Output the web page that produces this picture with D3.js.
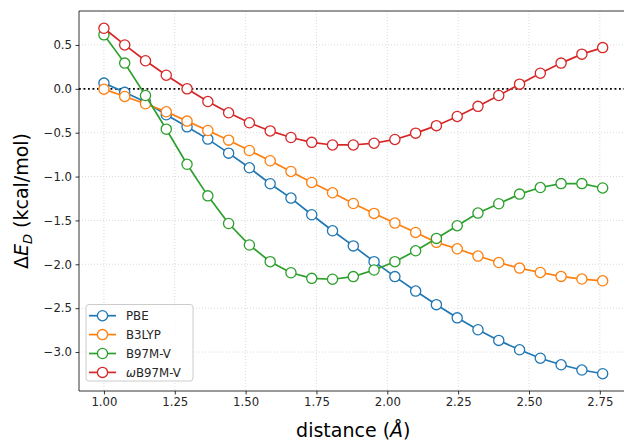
<!DOCTYPE html>
<html>
<head>
<meta charset="utf-8">
<script src="https://cdn.jsdelivr.net/npm/d3@7"></script>
<style>
  html, body { margin: 0; padding: 0; background: #fff; }
  svg { display: block; font-family: "DejaVu Sans", sans-serif; }
</style>
</head>
<body>
<svg id="chart" width="624" height="441"></svg>
<script>
// Separation distances (Å)
const distances = [1.0, 1.0733, 1.1467, 1.22, 1.2933, 1.3667, 1.44, 1.5133, 1.5867, 1.66,
  1.7333, 1.8067, 1.88, 1.9533, 2.0267, 2.10, 2.1733, 2.2467, 2.32, 2.3933,
  2.4667, 2.54, 2.6133, 2.6867, 2.76];

// ΔE_D (kcal/mol) for each functional
const pbe = [0.065, -0.04, -0.15, -0.296, -0.433, -0.573, -0.733, -0.90, -1.082, -1.245,
  -1.435, -1.618, -1.79, -1.97, -2.14, -2.305, -2.46, -2.61, -2.746, -2.867,
  -2.974, -3.07, -3.145, -3.205, -3.247];
const b3lyp = [-0.004, -0.087, -0.17, -0.262, -0.368, -0.475, -0.585, -0.703, -0.82, -0.942,
  -1.067, -1.185, -1.307, -1.42, -1.53, -1.637, -1.75, -1.823, -1.906, -1.98,
  -2.043, -2.093, -2.138, -2.168, -2.188];
const b97mv = [0.615, 0.293, -0.076, -0.46, -0.86, -1.22, -1.535, -1.78, -1.97, -2.096,
  -2.16, -2.17, -2.14, -2.065, -1.97, -1.846, -1.705, -1.56, -1.416, -1.31,
  -1.2, -1.125, -1.08, -1.08, -1.13];
const wb97mv = [0.69, 0.50, 0.32, 0.155, 0.0, -0.145, -0.273, -0.387, -0.48, -0.555,
  -0.61, -0.64, -0.64, -0.62, -0.577, -0.505, -0.42, -0.315, -0.20, -0.076,
  0.053, 0.178, 0.293, 0.395, 0.47];

const seriesNames = ["PBE", "B3LYP", "B97M-V", "ωB97M-V"];
const seriesColors = ["#1f77b4", "#ff7f0e", "#2ca02c", "#d62728"];
const seriesValues = [pbe, b3lyp, b97mv, wb97mv];

const xTicks = [1.00, 1.25, 1.50, 1.75, 2.00, 2.25, 2.50, 2.75];
const yTicks = [0.5, 0.0, -0.5, -1.0, -1.5, -2.0, -2.5, -3.0];

const svg = d3.select("#chart");
const plot = { left: 79, top: 11, right: 627.6, bottom: 391 };

const allY = seriesValues.flat();
const xMin = d3.min(distances), xMax = d3.max(distances);
const yMin = d3.min(allY), yMax = d3.max(allY);
const xPad = (xMax - xMin) * 0.05, yPad = (yMax - yMin) * 0.05;

const x = d3.scaleLinear().domain([xMin - xPad, xMax + xPad]).range([plot.left, plot.right]);
const y = d3.scaleLinear().domain([yMin - yPad, yMax + yPad]).range([plot.bottom, plot.top]);

const fmt = d => d3.format(".2f")(d).replace("-", "\u2212");
const fmtY = d => d3.format(".1f")(d).replace("-", "\u2212");

// grid
const grid = svg.append("g").attr("stroke", "#d0d0d0").attr("stroke-width", 0.8)
  .attr("stroke-dasharray", "1,2");
grid.selectAll(".gx").data(xTicks).join("line")
  .attr("x1", d => x(d)).attr("x2", d => x(d))
  .attr("y1", plot.top).attr("y2", plot.bottom);
grid.selectAll(".gy").data(yTicks).join("line")
  .attr("x1", plot.left).attr("x2", plot.right)
  .attr("y1", d => y(d)).attr("y2", d => y(d));

// zero reference line
svg.append("line")
  .attr("x1", plot.left).attr("x2", plot.right)
  .attr("y1", y(0)).attr("y2", y(0))
  .attr("stroke", "#000").attr("stroke-width", 1.8)
  .attr("stroke-dasharray", "1.8,2.7");

// series
const line = d3.line().x((d, i) => x(distances[i])).y(d => y(d));
seriesValues.forEach((vals, k) => {
  const g = svg.append("g");
  g.append("path").datum(vals).attr("d", line)
    .attr("fill", "none").attr("stroke", seriesColors[k]).attr("stroke-width", 1.7);
  g.selectAll("circle").data(vals).join("circle")
    .attr("cx", (d, i) => x(distances[i])).attr("cy", d => y(d)).attr("r", 5.1)
    .attr("fill", "#fff").attr("stroke", seriesColors[k]).attr("stroke-width", 1.3);
});

// axes
const xAxis = d3.axisBottom(x).tickValues(xTicks).tickFormat(fmt).tickSizeOuter(0).tickSize(3.5).tickPadding(3.5);
const yAxis = d3.axisLeft(y).tickValues(yTicks).tickFormat(fmtY).tickSizeOuter(0).tickSize(3.5).tickPadding(3.5);

const gx = svg.append("g").attr("transform", `translate(0,${plot.bottom})`).call(xAxis);
const gy = svg.append("g").attr("transform", `translate(${plot.left},0)`).call(yAxis);
[gx, gy].forEach(g => {
  g.select(".domain").remove();
  g.selectAll(".tick line").attr("stroke", "#000").attr("stroke-width", 0.8);
  g.selectAll(".tick text").attr("font-size", 11.7).attr("fill", "#262626")
    .attr("font-family", "DejaVu Sans, sans-serif");
});

// spines
const spines = svg.append("g").attr("stroke", "#000").attr("stroke-width", 0.8).attr("fill", "none");
spines.append("line").attr("x1", plot.left).attr("x2", plot.left).attr("y1", plot.top).attr("y2", plot.bottom);
spines.append("line").attr("x1", plot.left).attr("x2", plot.right).attr("y1", plot.bottom).attr("y2", plot.bottom);
spines.append("line").attr("x1", plot.left).attr("x2", plot.right).attr("y1", plot.top).attr("y2", plot.top);
spines.append("line").attr("x1", plot.right).attr("x2", plot.right).attr("y1", plot.top).attr("y2", plot.bottom);

// axis labels
svg.append("text")
  .attr("x", (plot.left + plot.right) / 2).attr("y", 437)
  .attr("text-anchor", "middle").attr("font-size", 19).attr("fill", "#000")
  .html('distance (<tspan font-style="italic">Å</tspan>)');

const yl = svg.append("text")
  .attr("transform", `translate(28,${(plot.top + plot.bottom) / 2}) rotate(-90)`)
  .attr("text-anchor", "middle").attr("font-size", 19).attr("fill", "#000");
yl.append("tspan").text("Δ");
yl.append("tspan").attr("font-style", "italic").text("E");
yl.append("tspan").attr("font-style", "italic").attr("font-size", 13).attr("dy", 3.5).text("D");
yl.append("tspan").attr("dy", -3.5).text(" (kcal/mol)");

// legend
const lg = svg.append("g");
lg.append("rect").attr("x", 86).attr("y", 304.5).attr("width", 107).attr("height", 76.5)
  .attr("rx", 3).attr("fill", "#fff").attr("fill-opacity", 0.8)
  .attr("stroke", "#cccccc").attr("stroke-width", 1);
seriesNames.forEach((name, k) => {
  const cy = 315.7 + k * 18.9;
  lg.append("line").attr("x1", 89).attr("x2", 116).attr("y1", cy).attr("y2", cy)
    .attr("stroke", seriesColors[k]).attr("stroke-width", 1.7);
  lg.append("circle").attr("cx", 102.5).attr("cy", cy).attr("r", 5.1)
    .attr("fill", "#fff").attr("stroke", seriesColors[k]).attr("stroke-width", 1.3);
  const t = lg.append("text").attr("x", 126).attr("y", cy + 4.2)
    .attr("font-size", 11.8).attr("fill", "#262626");
  if (name.startsWith("ω")) {
    t.append("tspan").attr("font-style", "italic").text("ω");
    t.append("tspan").text(name.slice(1));
  } else {
    t.text(name);
  }
});
</script>
</body>
</html>
